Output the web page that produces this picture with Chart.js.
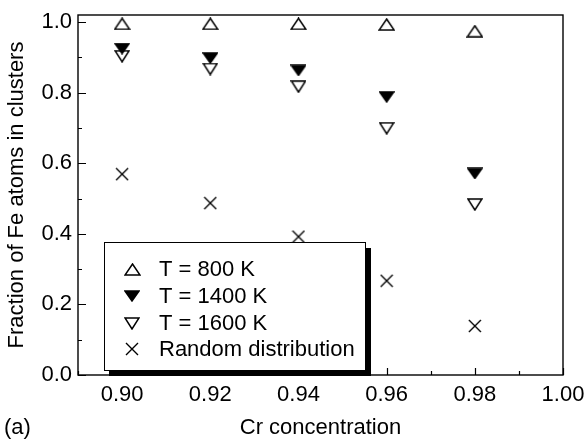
<!DOCTYPE html>
<html>
<head>
<meta charset="utf-8">
<script src="https://cdn.jsdelivr.net/npm/chart.js@4/dist/chart.umd.min.js"></script>
<style>
  html, body { margin: 0; padding: 0; background: #fff; }
  canvas { display: block; }
</style>
</head>
<body>
<canvas id="chart" width="585" height="439"></canvas>
<script>
// Cr concentration (x) and fraction of Fe atoms in clusters (y)
const crConc = [0.90, 0.92, 0.94, 0.96, 0.98];
const t800 = [0.995, 0.995, 0.995, 0.993, 0.974];
const t1400 = [0.925, 0.898, 0.863, 0.788, 0.571];
const t1600 = [0.903, 0.867, 0.817, 0.699, 0.483];
const randomDist = [0.569, 0.487, 0.392, 0.267, 0.139];

const xTicks = [0.90, 0.92, 0.94, 0.96, 0.98, 1.00];
const xMinor = [0.89, 0.91, 0.93, 0.95, 0.97, 0.99];
const yTicks = [0.0, 0.2, 0.4, 0.6, 0.8, 1.0];
const yMinor = [0.1, 0.3, 0.5, 0.7, 0.9];

const seriesLabels = ['T = 800 K', 'T = 1400 K', 'T = 1600 K', 'Random distribution'];

const FONT = '"Liberation Sans", Arial, Helvetica, sans-serif';

// marker glyphs, drawn once on small canvases
function triangle(w, h, down, filled) {
    const c = document.createElement('canvas');
    c.width = w + 2; c.height = h + 2;
    const g = c.getContext('2d');
    g.beginPath();
    if (down) {
        g.moveTo(1, 1); g.lineTo(w + 1, 1); g.lineTo(w / 2 + 1, h + 1);
    } else {
        g.moveTo(w / 2 + 1, 1); g.lineTo(w + 1, h + 1); g.lineTo(1, h + 1);
    }
    g.closePath();
    g.fillStyle = filled ? '#000' : '#fff';
    g.fill();
    g.lineWidth = 1.5;
    g.strokeStyle = '#000';
    g.stroke();
    return c;
}

function cross(s) {
    const c = document.createElement('canvas');
    c.width = s + 2; c.height = s + 2;
    const g = c.getContext('2d');
    g.lineWidth = 1.4;
    g.strokeStyle = '#000';
    g.beginPath();
    g.moveTo(1, 1); g.lineTo(s + 1, s + 1);
    g.moveTo(s + 1, 1); g.lineTo(1, s + 1);
    g.stroke();
    return c;
}

const markers = [
    triangle(15, 11, false, false),
    triangle(14, 10, true, true),
    triangle(14, 11, true, false),
    cross(12)
];

function toPoints(ys) {
    return crConc.map((x, i) => ({ x: x, y: ys[i] }));
}

const allSeries = [t800, t1400, t1600, randomDist];

const frameAndLegend = {
    id: 'frameAndLegend',
    afterDraw(chart) {
        const ctx = chart.ctx;
        const area = chart.chartArea;
        const xs = chart.scales.x, ys = chart.scales.y;
        ctx.save();
        ctx.strokeStyle = '#000';
        ctx.lineWidth = 1.4;
        ctx.strokeRect(area.left, area.top, area.right - area.left, area.bottom - area.top);

        // inward tick marks
        ctx.lineWidth = 1.2;
        ctx.beginPath();
        yTicks.forEach(v => {
            const p = Math.round(ys.getPixelForValue(v)) + 0.5;
            ctx.moveTo(area.left, p); ctx.lineTo(area.left + 8, p);
        });
        yMinor.forEach(v => {
            const p = Math.round(ys.getPixelForValue(v)) + 0.5;
            ctx.moveTo(area.left, p); ctx.lineTo(area.left + 4, p);
        });
        xTicks.forEach(v => {
            const p = Math.round(xs.getPixelForValue(v)) + 0.5;
            ctx.moveTo(p, area.bottom); ctx.lineTo(p, area.bottom - 7);
        });
        xMinor.forEach(v => {
            const p = Math.round(xs.getPixelForValue(v)) + 0.5;
            ctx.moveTo(p, area.bottom); ctx.lineTo(p, area.bottom - 4);
        });
        ctx.stroke();

        // panel label
        ctx.fillStyle = '#000';
        ctx.font = '22px ' + FONT;
        ctx.textAlign = 'left';
        ctx.textBaseline = 'middle';
        ctx.fillText('(a)', 4, 428);

        // legend box with drop shadow
        const bx = 104, by = 242, bw = 261, bh = 128;
        ctx.fillStyle = '#000';
        ctx.fillRect(bx + bw, by + 6, 6, bh - 1);
        ctx.fillRect(bx + 5, by + bh, bw + 1, 6);
        ctx.fillStyle = '#fff';
        ctx.fillRect(bx, by, bw, bh);
        ctx.lineWidth = 1;
        ctx.strokeStyle = '#000';
        ctx.strokeRect(bx + 0.5, by + 0.5, bw, bh);

        const rows = [269, 296, 323, 349];
        ctx.fillStyle = '#000';
        seriesLabels.forEach((label, i) => {
            const m = markers[i];
            ctx.drawImage(m, Math.round(132 - m.width / 2), Math.round(rows[i] - m.height / 2));
            ctx.fillText(label, 159, rows[i] + 1);
        });
        ctx.restore();
    }
};

Chart.defaults.font.family = FONT;
Chart.defaults.color = '#000';

new Chart(document.getElementById('chart'), {
    type: 'scatter',
    data: {
        datasets: allSeries.map((ys, i) => ({
            label: seriesLabels[i],
            data: toPoints(ys),
            pointStyle: markers[i],
            borderColor: '#000',
            backgroundColor: '#000'
        }))
    },
    options: {
        responsive: false,
        animation: false,
        devicePixelRatio: 1,
        layout: { padding: { left: 0, top: 15, right: 22, bottom: 0 } },
        plugins: { legend: { display: false }, tooltip: { enabled: false } },
        scales: {
            x: {
                type: 'linear',
                min: 0.89,
                max: 1.00,
                afterBuildTicks: s => { s.ticks = xTicks.map(v => ({ value: v })); },
                afterFit: s => { s.height = 64; s.paddingLeft = 0; s.paddingRight = 0; },
                grid: { display: false, drawTicks: false },
                border: { display: false },
                ticks: {
                    callback: v => Number(v).toFixed(2),
                    font: { size: 22 },
                    padding: 7,
                    maxRotation: 0,
                    autoSkip: false
                },
                title: {
                    display: true,
                    text: 'Cr concentration',
                    font: { size: 22, lineHeight: 1.0 },
                    padding: 0
                }
            },
            y: {
                type: 'linear',
                min: 0,
                max: 1.02,
                afterBuildTicks: s => { s.ticks = yTicks.map(v => ({ value: v })); },
                afterFit: s => { s.width = 78; s.paddingTop = 0; s.paddingBottom = 0; },
                grid: { display: false, drawTicks: false },
                border: { display: false },
                ticks: {
                    callback: v => Number(v).toFixed(1),
                    font: { size: 22 },
                    padding: 6,
                    autoSkip: false
                },
                title: {
                    display: true,
                    text: 'Fraction of Fe atoms in clusters',
                    font: { size: 22, lineHeight: 1.2 },
                    padding: { top: 4, bottom: 0 }
                }
            }
        }
    },
    plugins: [frameAndLegend]
});
</script>
</body>
</html>
